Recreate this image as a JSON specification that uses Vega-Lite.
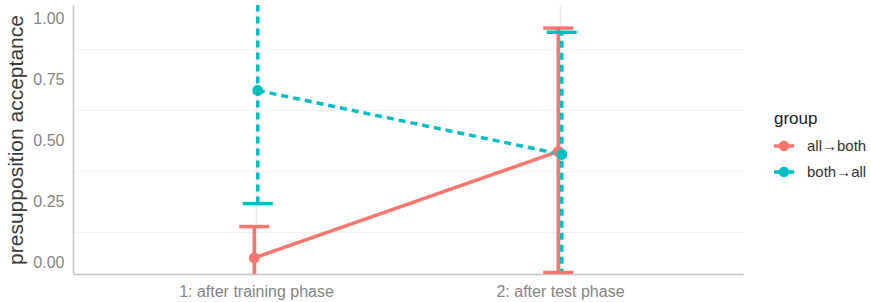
{
  "$schema": "https://vega.github.io/schema/vega-lite/v6.json",
  "width": 670,
  "height": 269,
  "autosize": {"type": "none"},
  "padding": {"left": 73, "top": 5, "right": 128, "bottom": 28},
  "config": {
    "font": "Liberation Sans",
    "view": {"stroke": null},
    "axis": {
      "gridColor": "#EBEBEB",
      "gridWidth": 1.6,
      "domainColor": "#C4C4C4",
      "domainWidth": 1.5,
      "ticks": false,
      "labelColor": "#858585",
      "labelFontSize": 16,
      "titleColor": "#3a3a3a",
      "titleFontSize": 21,
      "titleFontWeight": "normal"
    }
  },
  "data": {
    "values": [
      {"phase": "1: after training phase", "group": "all→both", "mean": 0.02, "lo": -0.2, "hi": 0.148},
      {"phase": "2: after test phase", "group": "all→both", "mean": 0.455, "lo": -0.04, "hi": 0.96},
      {"phase": "1: after training phase", "group": "both→all", "mean": 0.705, "lo": 0.242, "hi": 1.2},
      {"phase": "2: after test phase", "group": "both→all", "mean": 0.443, "lo": -0.2, "hi": 0.943}
    ]
  },
  "encoding": {
    "x": {
      "field": "phase", "type": "nominal",
      "scale": {"type": "point", "padding": 0.602},
      "axis": {"title": null, "labelAngle": 0, "labelPadding": 9, "grid": true, "domain": true}
    },
    "xOffset": {"field": "group", "type": "nominal", "scale": {"range": [-3.5, 3.5]}},
    "color": {
      "field": "group", "type": "nominal",
      "scale": {"domain": ["all→both", "both→all"], "range": ["#F8766D", "#00BFC4"]},
      "legend": {
        "title": "group",
        "orient": "none",
        "legendX": 701,
        "legendY": 106,
        "titleFontSize": 17,
        "titleFontWeight": "normal",
        "titleColor": "#222222",
        "titlePadding": 8,
        "labelFontSize": 15,
        "labelColor": "#333333",
        "labelOffset": 13,
        "rowPadding": 8,
        "symbolType": "M-1,-0.175H1V0.175H-1Z M0.52,0A0.52,0.52 0 1,1 -0.52,0A0.52,0.52 0 1,1 0.52,0Z",
        "symbolSize": 400,
        "symbolStrokeWidth": 0,
        "symbolOpacity": 1
      }
    },
    "strokeDash": {
      "field": "group", "type": "nominal",
      "scale": {"domain": ["all→both", "both→all"], "range": [[1, 0], [7, 5]]},
      "legend": null
    }
  },
  "layer": [
    {
      "mark": {"type": "rule", "strokeWidth": 3.5, "clip": true},
      "encoding": {
        "y": {
          "field": "lo", "type": "quantitative",
          "scale": {"domain": [-0.046, 1.0545], "nice": false, "zero": false},
          "axis": {"orient": "left", "values": [0.125, 0.375, 0.625, 0.875], "labels": false, "domain": false, "grid": true, "gridWidth": 0.9, "gridColor": "#F0F0F0", "title": null}
        },
        "y2": {"field": "hi"}
      }
    },
    {
      "mark": {"type": "tick", "size": 30, "thickness": 3.5, "opacity": 1, "clip": true},
      "encoding": {"y": {"field": "lo", "type": "quantitative", "axis": null}}
    },
    {
      "mark": {"type": "tick", "size": 30, "thickness": 3.5, "opacity": 1, "clip": true},
      "encoding": {"y": {"field": "hi", "type": "quantitative", "axis": null}}
    },
    {
      "mark": {"type": "line", "strokeWidth": 3.5, "clip": true},
      "encoding": {"y": {"field": "mean", "type": "quantitative", "axis": null}}
    },
    {
      "mark": {"type": "point", "filled": true, "opacity": 1, "size": 120, "clip": true},
      "encoding": {
        "y": {
          "field": "mean", "type": "quantitative",
          "axis": {"orient": "left", "values": [0, 0.25, 0.5, 0.75, 1], "format": ".2f", "title": "presupposition acceptance", "labelPadding": 9, "titlePadding": 6, "domain": true}
        }
      }
    }
  ],
  "resolve": {"axis": {"y": "independent"}}
}
